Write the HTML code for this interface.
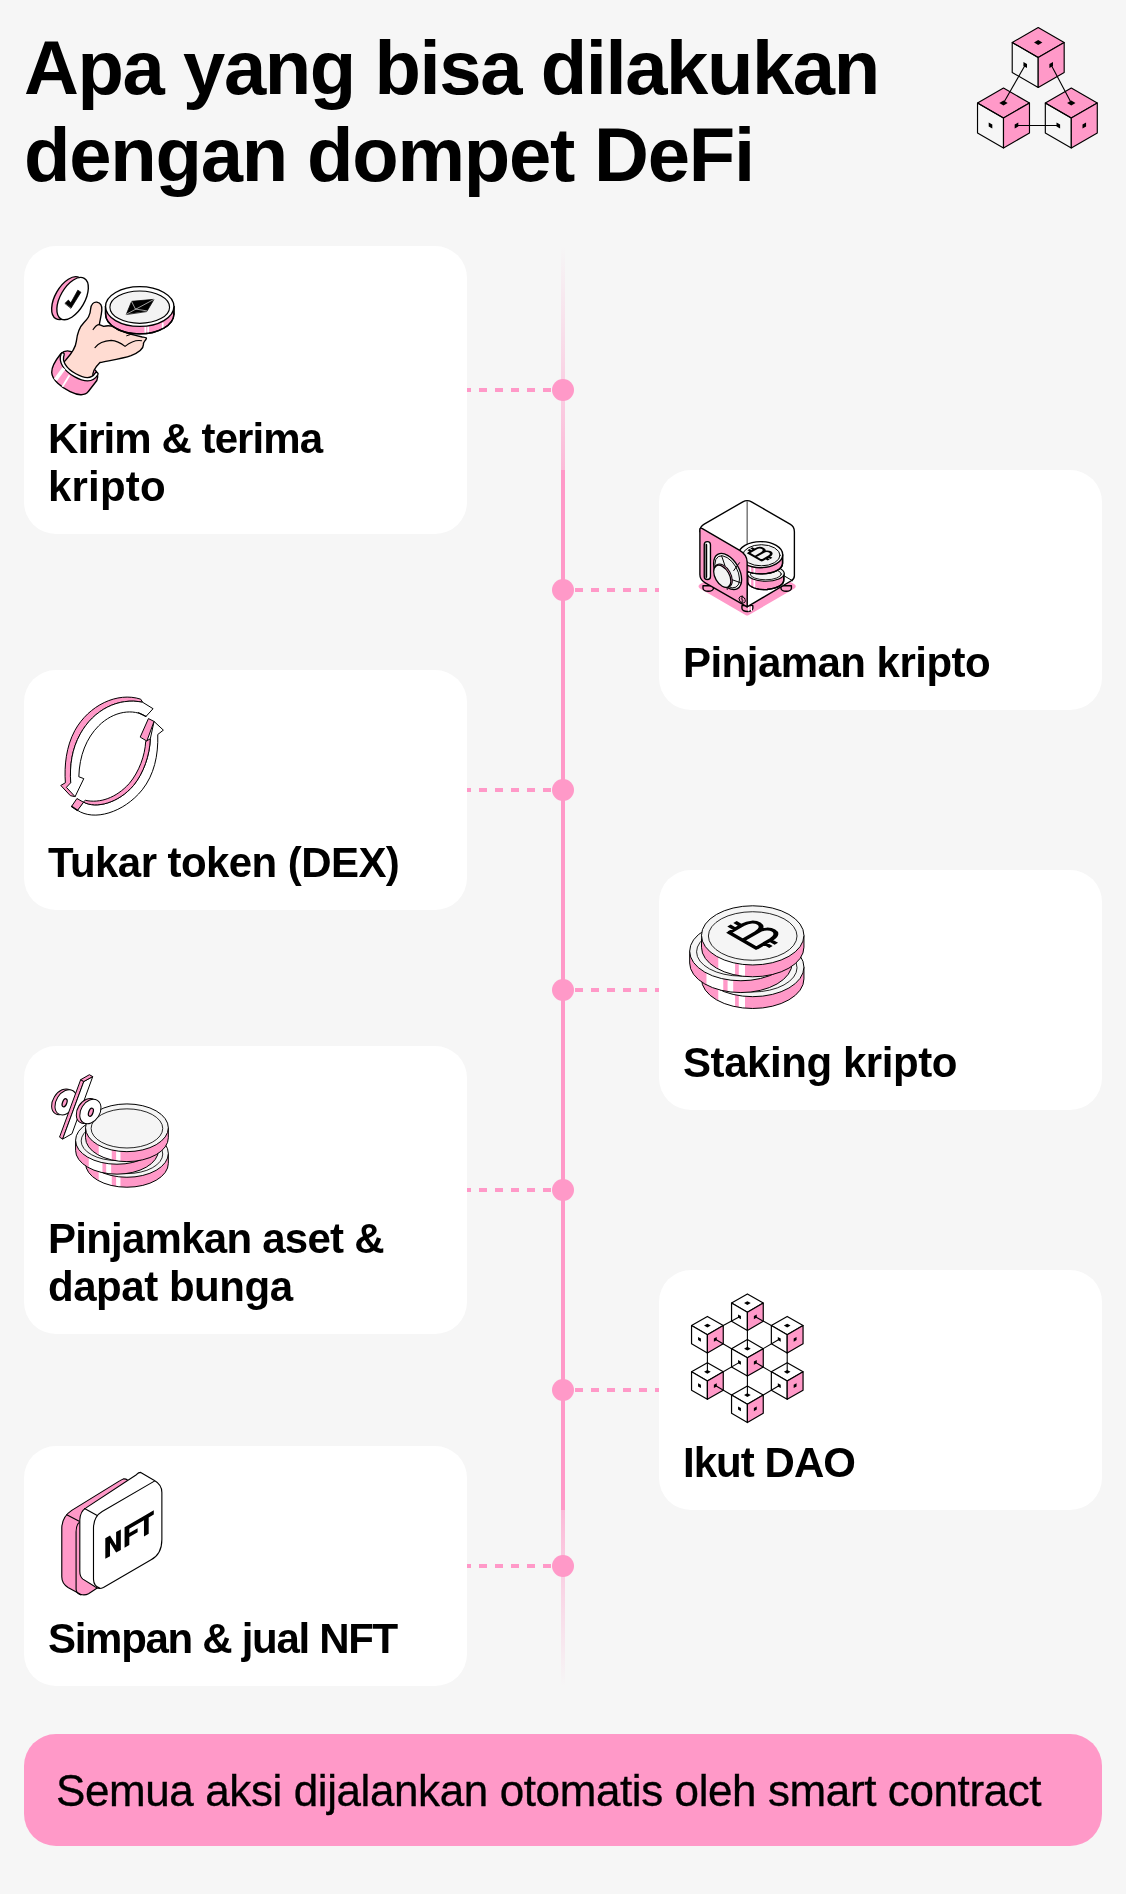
<!DOCTYPE html>
<html><head><meta charset="utf-8">
<style>
html,body{margin:0;padding:0;}
body{width:1126px;height:1894px;background:#f6f6f6;position:relative;overflow:hidden;font-family:"Liberation Sans",sans-serif;color:#000;}
.abs{position:absolute;}
.title{will-change:transform;position:absolute;left:24px;font-weight:bold;font-size:76px;letter-spacing:-1.3px;white-space:nowrap;line-height:87px;}
.card{position:absolute;background:#fff;border-radius:32px;width:443px;}
.L{left:24px;}
.R{left:659px;}
.ct{will-change:transform;position:absolute;left:24px;font-weight:bold;font-size:42px;letter-spacing:-0.6px;line-height:48px;white-space:nowrap;}
.line{position:absolute;left:561px;width:4px;}
.dot{position:absolute;left:552px;width:22px;height:22px;border-radius:50%;background:#ff99c8;}
.dl{position:absolute;left:467px;width:85px;height:4px;background:linear-gradient(to right,#ff99c8 0 8px,transparent 8px 16px);background-size:16px 4px;background-repeat:repeat-x;background-position:12px 0;}
.dr{position:absolute;left:574px;width:85px;height:4px;background:linear-gradient(to right,#ff99c8 0 8px,transparent 8px 16px);background-size:16px 4px;background-repeat:repeat-x;background-position:1px 0;}
.icon{position:absolute;overflow:visible;}
.banner{position:absolute;left:24px;top:1734px;width:1078px;height:112px;background:#ff99c8;border-radius:32px;}
.bt{will-change:transform;-webkit-text-stroke:0.35px #000;position:absolute;left:32px;font-size:44px;letter-spacing:0.5px;white-space:nowrap;line-height:48px;}
</style></head><body>

<div class="title" style="top:24px;letter-spacing:-1.4px">Apa yang bisa dilakukan</div>
<div class="title" style="top:111px;letter-spacing:-1.2px">dengan dompet DeFi</div>

<!-- header cubes icon -->
<svg class="icon" style="left:950px;top:0px" width="176" height="170" viewBox="950 0 176 170">
<polygon points="1038.20,57.50 1012.22,42.50 1038.20,27.50 1064.18,42.50" fill="#ff99c8" stroke="#000" stroke-width="1.15" stroke-linejoin="round"/>
<polygon points="1038.20,57.50 1012.22,42.50 1012.22,72.50 1038.20,87.50" fill="none" stroke="#000" stroke-width="1.15" stroke-linejoin="round"/>
<polygon points="1038.20,57.50 1064.18,42.50 1064.18,72.50 1038.20,87.50" fill="#ff99c8" stroke="#000" stroke-width="1.15" stroke-linejoin="round"/>
<polygon points="1034.04,42.50 1038.20,40.10 1042.36,42.50 1038.20,44.90" fill="#000"/>
<polygon points="1023.41,62.00 1027.01,64.00 1027.01,68.00 1023.41,66.00" fill="#000"/>
<polygon points="1049.39,64.00 1052.99,62.00 1052.99,66.00 1049.39,68.00" fill="#000"/>
<polygon points="1003.50,118.00 977.52,103.00 1003.50,88.00 1029.48,103.00" fill="#ff99c8" stroke="#000" stroke-width="1.15" stroke-linejoin="round"/>
<polygon points="1003.50,118.00 977.52,103.00 977.52,133.00 1003.50,148.00" fill="none" stroke="#000" stroke-width="1.15" stroke-linejoin="round"/>
<polygon points="1003.50,118.00 1029.48,103.00 1029.48,133.00 1003.50,148.00" fill="#ff99c8" stroke="#000" stroke-width="1.15" stroke-linejoin="round"/>
<polygon points="999.34,103.00 1003.50,100.60 1007.66,103.00 1003.50,105.40" fill="#000"/>
<polygon points="988.71,122.50 992.31,124.50 992.31,128.50 988.71,126.50" fill="#000"/>
<polygon points="1014.69,124.50 1018.29,122.50 1018.29,126.50 1014.69,128.50" fill="#000"/>
<polygon points="1071.30,118.00 1045.32,103.00 1071.30,88.00 1097.28,103.00" fill="#ff99c8" stroke="#000" stroke-width="1.15" stroke-linejoin="round"/>
<polygon points="1071.30,118.00 1045.32,103.00 1045.32,133.00 1071.30,148.00" fill="none" stroke="#000" stroke-width="1.15" stroke-linejoin="round"/>
<polygon points="1071.30,118.00 1097.28,103.00 1097.28,133.00 1071.30,148.00" fill="#ff99c8" stroke="#000" stroke-width="1.15" stroke-linejoin="round"/>
<polygon points="1067.14,103.00 1071.30,100.60 1075.46,103.00 1071.30,105.40" fill="#000"/>
<polygon points="1056.51,122.50 1060.11,124.50 1060.11,128.50 1056.51,126.50" fill="#000"/>
<polygon points="1082.49,124.50 1086.09,122.50 1086.09,126.50 1082.49,128.50" fill="#000"/>
<line x1="1025.21" y1="65.00" x2="1003.50" y2="103.00" stroke="#000" stroke-width="1.1"/>
<line x1="1051.19" y1="65.00" x2="1071.30" y2="103.00" stroke="#000" stroke-width="1.1"/>
<line x1="1016.49" y1="125.50" x2="1058.31" y2="125.50" stroke="#000" stroke-width="1.1"/>
</svg>


<!-- timeline -->
<div class="line" style="top:246px;height:224px;background:linear-gradient(to bottom,rgba(255,153,200,0),rgba(255,153,200,0.65))"></div>
<div class="line" style="top:470px;height:1040px;background:#ff99c8"></div>
<div class="line" style="top:1510px;height:176px;background:linear-gradient(to bottom,rgba(255,153,200,0.65),rgba(255,153,200,0))"></div>

<div class="dl" style="top:388px"></div><div class="dot" style="top:379px"></div>
<div class="dr" style="top:588px"></div><div class="dot" style="top:579px"></div>
<div class="dl" style="top:788px"></div><div class="dot" style="top:779px"></div>
<div class="dr" style="top:988px"></div><div class="dot" style="top:979px"></div>
<div class="dl" style="top:1188px"></div><div class="dot" style="top:1179px"></div>
<div class="dr" style="top:1388px"></div><div class="dot" style="top:1379px"></div>
<div class="dl" style="top:1564px"></div><div class="dot" style="top:1555px"></div>

<!-- cards -->
<div class="card L" style="top:246px;height:288px">
  <div class="ct" style="top:169px"><span style="letter-spacing:-0.93px">Kirim &amp; terima</span><br><span style="letter-spacing:0.2px">kripto</span></div>
</div>
<div class="card R" style="top:470px;height:240px">
  <div class="ct" style="top:169px;letter-spacing:-0.53px">Pinjaman kripto</div>
</div>
<div class="card L" style="top:670px;height:240px">
  <div class="ct" style="top:169px;letter-spacing:-0.57px">Tukar token (DEX)</div>
</div>
<div class="card R" style="top:870px;height:240px">
  <div class="ct" style="top:169px;letter-spacing:-0.43px">Staking kripto</div>
</div>
<div class="card L" style="top:1046px;height:288px">
  <div class="ct" style="top:169px"><span style="letter-spacing:-0.75px">Pinjamkan aset &amp;</span><br><span style="letter-spacing:-0.46px">dapat bunga</span></div>
</div>
<div class="card R" style="top:1270px;height:240px">
  <div class="ct" style="top:169px;letter-spacing:-0.96px">Ikut DAO</div>
</div>
<div class="card L" style="top:1446px;height:240px">
  <div class="ct" style="top:169px;letter-spacing:-1.3px">Simpan &amp; jual NFT</div>
</div>

<svg class="icon" style="left:44px;top:268px" width="140" height="140" viewBox="0 0 1126 1126">
<g stroke="#000" stroke-width="11" stroke-linejoin="round" stroke-linecap="round">
  <!-- check coin -->
  <ellipse cx="190" cy="242" rx="100" ry="190" transform="rotate(30 190 242)" fill="#ff99c8"/>
  <ellipse cx="230" cy="246" rx="98" ry="188" transform="rotate(30 230 246)" fill="#fff"/>
  <path d="M170 283 L196 258 L216 280 L272 178 L297 195 L218 322 Z" fill="#000" stroke-width="6"/>
  <!-- cuff -->
  <path d="M135 690 C95 740 60 790 62 840 C65 900 140 960 210 995 C270 1025 330 1030 355 995 L425 905 C440 870 430 830 400 810 L250 690 C210 660 165 660 135 690 Z" fill="#ff99c8"/>
  <!-- hand -->
  <path d="M175 740 C220 690 255 640 260 590 C268 520 280 480 320 440 C350 410 372 385 375 330 C378 290 400 272 425 275 C455 280 468 300 465 340 C462 380 450 420 445 455 L480 470 C530 455 560 470 600 500 C650 520 720 540 790 555 C820 560 830 560 820 575 C810 590 795 600 800 615 C800 650 760 680 700 705 C630 730 520 745 450 760 C420 790 385 840 395 875 C375 912 310 895 250 860 C165 810 140 770 175 740 Z" fill="#ffdcd2"/>
  <path d="M410 640 C440 600 480 585 540 582 C590 585 620 605 652 630 C690 600 730 575 785 585" fill="none" stroke-width="9"/>
  <path d="M395 495 C410 470 430 455 445 455" fill="none" stroke-width="9"/>
  <path d="M665 545 L695 535" fill="none" stroke-width="8"/>
  <!-- cuff rim -->
  <path d="M150 695 C128 750 165 815 250 862 C315 898 385 915 422 852" fill="none" stroke-width="36"/>
  <path d="M150 695 C128 750 165 815 250 862 C315 898 385 915 422 852" fill="none" stroke="#fff" stroke-width="15"/>
  <path d="M92 900 L160 808" fill="none" stroke="#fff" stroke-width="30" stroke-linecap="butt"/>
  <path d="M148 955 L205 862" fill="none" stroke="#fff" stroke-width="15" stroke-linecap="butt"/>
  <!-- eth coin -->
  <path d="M495 310 L495 370 C495 460 620 530 770 530 C920 530 1045 460 1045 370 L1045 310 Z" fill="#ff99c8"/>
  <path d="M815 470 L815 525 M838 468 L838 523 M955 440 L955 495" stroke="#fff" stroke-width="14" stroke-linecap="butt"/>
  <path d="M495 370 C495 460 620 530 770 530 C920 530 1045 460 1045 370" fill="none"/>
  <line x1="495" y1="310" x2="495" y2="370"/><line x1="1045" y1="310" x2="1045" y2="370"/>
  <ellipse cx="770" cy="310" rx="275" ry="160" fill="#fff"/>
  <ellipse cx="770" cy="315" rx="240" ry="130" fill="#f3f3f3" stroke-width="9"/>
  <path d="M662 372 L705 268 L885 252 L828 348 Z" fill="#000" stroke-width="6"/>
  <path d="M705 270 L735 330 L828 345 M662 372 L885 252" fill="none" stroke="#fff" stroke-width="5"/>
</g>
</svg>

<svg class="icon" style="left:680px;top:490px" width="140" height="140" viewBox="0 0 1126 1126">
<g stroke="#000" stroke-width="11" stroke-linejoin="round" stroke-linecap="round">
  <!-- pink base -->
  <polygon points="170,775 540,990 910,775 540,560" fill="#ff99c8" stroke="#ff99c8" stroke-width="40"/>
  <!-- feet -->
  <g fill="#ff99c8">
    <path d="M185 770 L185 790 A42 24 0 0 0 269 790 L269 770 Z"/>
    <path d="M498 930 L498 952 A44 25 0 0 0 586 952 L586 930 Z"/>
    <path d="M812 770 L812 790 A42 24 0 0 0 896 790 L896 770 Z"/>
  </g>
  <path d="M553 935 L553 975 M575 935 L575 975" stroke="#fff" stroke-width="9" stroke-linecap="butt"/>
  <!-- glass box -->
  <path d="M160 335 Q160 295 195 275 L505 95 Q540 75 575 95 L885 275 Q920 295 920 335 L920 690 Q920 715 895 730 L540 940 L540 540 Z" fill="#fff"/>
  <line x1="540" y1="95" x2="540" y2="440" stroke="#333" stroke-width="8"/>
  <path d="M840 692 L905 730" fill="none" stroke-width="8"/>
  <!-- coins -->
  <path d="M545 690 L545 745 C560 790 640 805 700 800 C790 790 835 760 835 720 L835 670 Z" fill="#ff99c8"/>
  <path d="M565 700 L565 790 M598 700 L598 795" stroke="#fff" stroke-width="14" stroke-linecap="butt"/>
  <path d="M545 745 C560 790 640 805 700 800 C790 790 835 760 835 720 L835 670" fill="none"/>
  <ellipse cx="690" cy="672" rx="148" ry="62" fill="#f3f3f3" stroke-width="9"/>
  <ellipse cx="690" cy="676" rx="125" ry="46" fill="none" stroke-width="7"/>
  <path d="M470 520 L470 590 C470 640 560 675 650 675 C750 675 825 640 825 590 L825 520 Z" fill="#ff99c8"/>
  <path d="M565 600 L565 670 M598 605 L598 675" stroke="#fff" stroke-width="14" stroke-linecap="butt"/>
  <path d="M470 590 C470 640 560 675 650 675 C750 675 825 640 825 590 L825 520" fill="none"/>
  <ellipse cx="648" cy="520" rx="178" ry="105" fill="#fff"/>
  <ellipse cx="655" cy="525" rx="150" ry="85" fill="#f3f3f3" stroke-width="8"/>
  <!-- bitcoin -->
  <g transform="matrix(1.1691 -0.6750 1.1691 0.6750 604 537)" fill="none" stroke-width="14" stroke-linecap="butt" stroke-linejoin="miter">
    <path d="M0 -45 L45 -45 C86 -45 86 0 45 0 L0 0 M0 0 L50 0 C90 0 90 45 50 45 L0 45 M0 -50 L0 50 M20 -45 L20 -66 M40 -45 L40 -66 M28 45 L28 66 M46 45 L46 66"/>
  </g>
  <!-- door -->
  <path d="M160 320 Q160 300 180 310 L480 485 Q540 520 540 580 L540 940 L200 745 Q160 722 160 680 Z" fill="#ff99c8"/>
  <!-- handle slot -->
  <rect x="195" y="415" width="50" height="305" rx="25" fill="#fff" stroke-width="11"/>
  <path d="M212 440 L212 700" stroke-width="14"/>
  <!-- dial -->
  <ellipse cx="383" cy="655" rx="92" ry="159" transform="rotate(-30 383 655)" fill="#f3f3f3" stroke-width="11"/>
  <ellipse cx="380" cy="658" rx="80" ry="142" transform="rotate(-30 380 658)" fill="none" stroke-width="7"/>
  <path d="M335 530 L362 610 M478 585 L432 648 M485 745 L420 722 M380 800 L372 745" fill="none" stroke-width="8"/>
  <ellipse cx="348" cy="688" rx="60" ry="102" transform="rotate(-30 348 688)" fill="#ff99c8" stroke-width="8"/>
  <ellipse cx="340" cy="694" rx="57" ry="97" transform="rotate(-30 340 694)" fill="#f3f3f3" stroke-width="10"/>
  <!-- $ badge -->
  <ellipse cx="500" cy="882" rx="22" ry="30" transform="rotate(-30 500 882)" fill="none" stroke-width="7"/>
  <path d="M508 862 C490 858 488 880 500 882 C512 884 510 906 492 902 M500 850 L500 915" fill="none" stroke-width="5"/>
</g>
</svg>

<svg class="icon" style="left:44px;top:686px" width="140" height="140" viewBox="0 0 1126 1126">
<g stroke="#000" stroke-width="8" stroke-linejoin="round" stroke-linecap="round">
  <!-- arrow 1 (upper-left, pointing down) -->
  <path d="M775 105 C590 45 360 155 248 358 C178 488 162 640 172 778 L135 800 L212 882 L250 890 L215 778 C205 640 225 505 292 385 C400 190 600 90 790 130 Z" fill="#ff99c8"/>
  <path d="M790 130 C600 90 400 190 292 385 C225 505 205 640 215 778 L180 815 L250 890 L320 745 L280 730 C285 560 340 420 440 320 C560 200 720 180 820 245 L875 185 Z" fill="#fff"/>
  <path d="M760 215 L820 245" fill="none" stroke-width="10"/>
  <!-- arrow 2 (lower-right, pointing up) -->
  <path d="M270 1000 C400 1090 640 1020 790 835 C885 715 920 560 915 390 L960 355 L885 285 L855 425 L855 425 C850 560 800 700 720 800 C600 940 420 990 320 935 Z" fill="#fff"/>
  <path d="M320 935 C420 990 600 940 720 800 C800 700 850 560 855 425 L818 445 C812 560 765 690 685 785 C580 900 450 945 335 920 Z" fill="#ff99c8"/>
  <path d="M222 968 L265 905 L318 935 L270 1000 Z" fill="#ff99c8"/>
  <path d="M775 408 L840 262 L885 285 L828 440 Z" fill="#ff99c8"/>
  <path d="M270 1000 L222 968" fill="none" stroke-width="10"/>
</g>
</svg>

<svg class="icon" style="left:676px;top:890px" width="140" height="140" viewBox="0 0 1126 1126">
<clipPath id="sc1"><path d="M205,620 L205,715 A412,238 0 0 0 1029,715 L1029,620 Z"/></clipPath>
<path d="M205,620 L205,715 A412,238 0 0 0 1029,715 L1029,620 Z" fill="#ff99c8" stroke="none"/>
<g clip-path="url(#sc1)">
<rect x="340" y="620" width="135" height="353" fill="#fff"/>
<rect x="505" y="620" width="50" height="353" fill="#fff"/>
</g>
<path d="M205,620 L205,715 A412,238 0 0 0 1029,715 L1029,620 Z" fill="none" stroke="#000" stroke-width="8" stroke-linejoin="round"/>
<ellipse cx="617" cy="620" rx="412" ry="238" fill="#f5f5f5" stroke="#000" stroke-width="8"/>
<ellipse cx="617" cy="625" rx="356.4" ry="195.2" fill="#f5f5f5" stroke="#000" stroke-width="6.8"/>
<clipPath id="sc2"><path d="M110,492 L110,587 A412,238 0 0 0 934,587 L934,492 Z"/></clipPath>
<path d="M110,492 L110,587 A412,238 0 0 0 934,587 L934,492 Z" fill="#ff99c8" stroke="none"/>
<g clip-path="url(#sc2)">
<rect x="245" y="492" width="135" height="353" fill="#fff"/>
<rect x="415" y="492" width="45" height="353" fill="#fff"/>
</g>
<path d="M110,492 L110,587 A412,238 0 0 0 934,587 L934,492 Z" fill="none" stroke="#000" stroke-width="8" stroke-linejoin="round"/>
<ellipse cx="522" cy="492" rx="412" ry="238" fill="#f5f5f5" stroke="#000" stroke-width="8"/>
<ellipse cx="522" cy="497" rx="356.4" ry="195.2" fill="#f5f5f5" stroke="#000" stroke-width="6.8"/>
<clipPath id="sc3"><path d="M205,365 L205,460 A412,238 0 0 0 1029,460 L1029,365 Z"/></clipPath>
<path d="M205,365 L205,460 A412,238 0 0 0 1029,460 L1029,365 Z" fill="#ff99c8" stroke="none"/>
<g clip-path="url(#sc3)">
<rect x="340" y="365" width="135" height="353" fill="#fff"/>
<rect x="505" y="365" width="50" height="353" fill="#fff"/>
</g>
<path d="M205,365 L205,460 A412,238 0 0 0 1029,460 L1029,365 Z" fill="none" stroke="#000" stroke-width="8" stroke-linejoin="round"/>
<ellipse cx="617" cy="365" rx="412" ry="238" fill="#f5f5f5" stroke="#000" stroke-width="8"/>
<ellipse cx="617" cy="370" rx="356.4" ry="195.2" fill="#f5f5f5" stroke="#000" stroke-width="6.8"/>
<g transform="matrix(2.4075 -1.3900 2.4075 1.3900 537.2 405.1)" fill="none" stroke="#000" stroke-width="11.5" stroke-linecap="butt" stroke-linejoin="miter"><path d="M0 -45 L45 -45 C86 -45 86 0 45 0 L0 0 M0 0 L50 0 C90 0 90 45 50 45 L0 45 M0 -50 L0 50 M20 -45 L20 -66 M40 -45 L40 -66 M28 45 L28 66 M46 45 L46 66"/></g>
</svg>

<svg class="icon" style="left:44px;top:1066px" width="140" height="140" viewBox="0 0 1126 1126">
<clipPath id="lc1"><path d="M334,703 L334,783 A333,192 0 0 0 1000,783 L1000,703 Z"/></clipPath>
<path d="M334,703 L334,783 A333,192 0 0 0 1000,783 L1000,703 Z" fill="#ff99c8" stroke="none"/>
<g clip-path="url(#lc1)">
<rect x="440" y="703" width="105" height="292" fill="#fff"/>
<rect x="580" y="703" width="35" height="292" fill="#fff"/>
</g>
<path d="M334,703 L334,783 A333,192 0 0 0 1000,783 L1000,703 Z" fill="none" stroke="#000" stroke-width="8" stroke-linejoin="round"/>
<ellipse cx="667" cy="703" rx="333" ry="192" fill="#f5f5f5" stroke="#000" stroke-width="8"/>
<ellipse cx="667" cy="708" rx="288.0" ry="157.4" fill="#f5f5f5" stroke="#000" stroke-width="6.8"/>
<clipPath id="lc2"><path d="M254,598 L254,678 A333,192 0 0 0 920,678 L920,598 Z"/></clipPath>
<path d="M254,598 L254,678 A333,192 0 0 0 920,678 L920,598 Z" fill="#ff99c8" stroke="none"/>
<g clip-path="url(#lc2)">
<rect x="360" y="598" width="110" height="292" fill="#fff"/>
<rect x="500" y="598" width="40" height="292" fill="#fff"/>
</g>
<path d="M254,598 L254,678 A333,192 0 0 0 920,678 L920,598 Z" fill="none" stroke="#000" stroke-width="8" stroke-linejoin="round"/>
<ellipse cx="587" cy="598" rx="333" ry="192" fill="#f5f5f5" stroke="#000" stroke-width="8"/>
<ellipse cx="587" cy="603" rx="288.0" ry="157.4" fill="#f5f5f5" stroke="#000" stroke-width="6.8"/>
<clipPath id="lc3"><path d="M334,497 L334,577 A333,192 0 0 0 1000,577 L1000,497 Z"/></clipPath>
<path d="M334,497 L334,577 A333,192 0 0 0 1000,577 L1000,497 Z" fill="#ff99c8" stroke="none"/>
<g clip-path="url(#lc3)">
<rect x="440" y="497" width="105" height="292" fill="#fff"/>
<rect x="580" y="497" width="35" height="292" fill="#fff"/>
</g>
<path d="M334,497 L334,577 A333,192 0 0 0 1000,577 L1000,497 Z" fill="none" stroke="#000" stroke-width="8" stroke-linejoin="round"/>
<ellipse cx="667" cy="497" rx="333" ry="192" fill="#f5f5f5" stroke="#000" stroke-width="8"/>
<ellipse cx="667" cy="502" rx="288.0" ry="157.4" fill="#f5f5f5" stroke="#000" stroke-width="6.8"/>
<g stroke="#000" stroke-width="8" stroke-linejoin="round">
<ellipse cx="150" cy="288" rx="78" ry="112" transform="rotate(32 150 288)" fill="#ff99c8"/>
<ellipse cx="175" cy="292" rx="76" ry="110" transform="rotate(32 175 292)" fill="#fff"/>
<ellipse cx="166" cy="296" rx="17" ry="34" transform="rotate(20 166 296)" fill="#ff99c8" stroke-width="10"/>
<polygon points="295,110 320,125 150,588 125,572" fill="#ff99c8"/>
<polygon points="320,125 392,85 225,545 150,588" fill="#fff"/>
<polygon points="295,110 365,70 392,85 320,125" fill="#ff99c8"/>
<ellipse cx="347" cy="362" rx="78" ry="108" transform="rotate(32 347 362)" fill="#ff99c8"/>
<ellipse cx="373" cy="366" rx="76" ry="106" transform="rotate(32 373 366)" fill="#fff"/>
<ellipse cx="377" cy="372" rx="17" ry="34" transform="rotate(20 377 372)" fill="#ff99c8" stroke-width="10"/>
</g>
</svg>

<svg class="icon" style="left:670px;top:1280px" width="140" height="150" viewBox="670 1280 140 150">
<polygon points="747.40,1312.20 731.55,1303.05 747.40,1293.90 763.25,1303.05" fill="#fff" stroke="#000" stroke-width="1.2" stroke-linejoin="round"/>
<polygon points="747.40,1312.20 731.55,1303.05 731.55,1321.35 747.40,1330.50" fill="#fff" stroke="#000" stroke-width="1.2" stroke-linejoin="round"/>
<polygon points="747.40,1312.20 763.25,1303.05 763.25,1321.35 747.40,1330.50" fill="#ff99c8" stroke="#000" stroke-width="1.2" stroke-linejoin="round"/>
<polygon points="744.07,1303.05 747.40,1301.13 750.73,1303.05 747.40,1304.97" fill="#000"/>
<polygon points="738.04,1314.38 740.92,1315.98 740.92,1319.18 738.04,1317.58" fill="#000"/>
<polygon points="753.88,1315.98 756.76,1314.38 756.76,1317.58 753.88,1319.18" fill="#000"/>
<polygon points="707.40,1334.70 691.55,1325.55 707.40,1316.40 723.25,1325.55" fill="#fff" stroke="#000" stroke-width="1.2" stroke-linejoin="round"/>
<polygon points="707.40,1334.70 691.55,1325.55 691.55,1343.85 707.40,1353.00" fill="#fff" stroke="#000" stroke-width="1.2" stroke-linejoin="round"/>
<polygon points="707.40,1334.70 723.25,1325.55 723.25,1343.85 707.40,1353.00" fill="#ff99c8" stroke="#000" stroke-width="1.2" stroke-linejoin="round"/>
<polygon points="704.07,1325.55 707.40,1323.63 710.73,1325.55 707.40,1327.47" fill="#000"/>
<polygon points="698.04,1336.88 700.92,1338.48 700.92,1341.68 698.04,1340.08" fill="#000"/>
<polygon points="713.88,1338.48 716.76,1336.88 716.76,1340.08 713.88,1341.68" fill="#000"/>
<polygon points="787.20,1334.70 771.35,1325.55 787.20,1316.40 803.05,1325.55" fill="#fff" stroke="#000" stroke-width="1.2" stroke-linejoin="round"/>
<polygon points="787.20,1334.70 771.35,1325.55 771.35,1343.85 787.20,1353.00" fill="#fff" stroke="#000" stroke-width="1.2" stroke-linejoin="round"/>
<polygon points="787.20,1334.70 803.05,1325.55 803.05,1343.85 787.20,1353.00" fill="#ff99c8" stroke="#000" stroke-width="1.2" stroke-linejoin="round"/>
<polygon points="783.87,1325.55 787.20,1323.63 790.53,1325.55 787.20,1327.47" fill="#000"/>
<polygon points="777.84,1336.88 780.72,1338.48 780.72,1341.68 777.84,1340.08" fill="#000"/>
<polygon points="793.68,1338.48 796.56,1336.88 796.56,1340.08 793.68,1341.68" fill="#000"/>
<polygon points="747.40,1357.80 731.55,1348.65 747.40,1339.50 763.25,1348.65" fill="#fff" stroke="#000" stroke-width="1.2" stroke-linejoin="round"/>
<polygon points="747.40,1357.80 731.55,1348.65 731.55,1366.95 747.40,1376.10" fill="#fff" stroke="#000" stroke-width="1.2" stroke-linejoin="round"/>
<polygon points="747.40,1357.80 763.25,1348.65 763.25,1366.95 747.40,1376.10" fill="#ff99c8" stroke="#000" stroke-width="1.2" stroke-linejoin="round"/>
<polygon points="744.07,1348.65 747.40,1346.73 750.73,1348.65 747.40,1350.57" fill="#000"/>
<polygon points="738.04,1359.97 740.92,1361.58 740.92,1364.78 738.04,1363.17" fill="#000"/>
<polygon points="753.88,1361.58 756.76,1359.97 756.76,1363.17 753.88,1364.78" fill="#000"/>
<polygon points="707.40,1381.00 691.55,1371.85 707.40,1362.70 723.25,1371.85" fill="#fff" stroke="#000" stroke-width="1.2" stroke-linejoin="round"/>
<polygon points="707.40,1381.00 691.55,1371.85 691.55,1390.15 707.40,1399.30" fill="#fff" stroke="#000" stroke-width="1.2" stroke-linejoin="round"/>
<polygon points="707.40,1381.00 723.25,1371.85 723.25,1390.15 707.40,1399.30" fill="#ff99c8" stroke="#000" stroke-width="1.2" stroke-linejoin="round"/>
<polygon points="704.07,1371.85 707.40,1369.93 710.73,1371.85 707.40,1373.77" fill="#000"/>
<polygon points="698.04,1383.17 700.92,1384.78 700.92,1387.98 698.04,1386.38" fill="#000"/>
<polygon points="713.88,1384.78 716.76,1383.17 716.76,1386.38 713.88,1387.98" fill="#000"/>
<polygon points="787.20,1381.00 771.35,1371.85 787.20,1362.70 803.05,1371.85" fill="#fff" stroke="#000" stroke-width="1.2" stroke-linejoin="round"/>
<polygon points="787.20,1381.00 771.35,1371.85 771.35,1390.15 787.20,1399.30" fill="#fff" stroke="#000" stroke-width="1.2" stroke-linejoin="round"/>
<polygon points="787.20,1381.00 803.05,1371.85 803.05,1390.15 787.20,1399.30" fill="#ff99c8" stroke="#000" stroke-width="1.2" stroke-linejoin="round"/>
<polygon points="783.87,1371.85 787.20,1369.93 790.53,1371.85 787.20,1373.77" fill="#000"/>
<polygon points="777.84,1383.17 780.72,1384.78 780.72,1387.98 777.84,1386.38" fill="#000"/>
<polygon points="793.68,1384.78 796.56,1383.17 796.56,1386.38 793.68,1387.98" fill="#000"/>
<polygon points="747.40,1404.20 731.55,1395.05 747.40,1385.90 763.25,1395.05" fill="#fff" stroke="#000" stroke-width="1.2" stroke-linejoin="round"/>
<polygon points="747.40,1404.20 731.55,1395.05 731.55,1413.35 747.40,1422.50" fill="#fff" stroke="#000" stroke-width="1.2" stroke-linejoin="round"/>
<polygon points="747.40,1404.20 763.25,1395.05 763.25,1413.35 747.40,1422.50" fill="#ff99c8" stroke="#000" stroke-width="1.2" stroke-linejoin="round"/>
<polygon points="744.07,1395.05 747.40,1393.13 750.73,1395.05 747.40,1396.97" fill="#000"/>
<polygon points="738.04,1406.38 740.92,1407.98 740.92,1411.18 738.04,1409.58" fill="#000"/>
<polygon points="753.88,1407.98 756.76,1406.38 756.76,1409.58 753.88,1411.18" fill="#000"/>
<line x1="739.48" y1="1316.78" x2="723.25" y2="1325.55" stroke="#000" stroke-width="1.1"/>
<line x1="755.32" y1="1316.78" x2="771.35" y2="1325.55" stroke="#000" stroke-width="1.1"/>
<line x1="747.40" y1="1330.50" x2="747.40" y2="1348.65" stroke="#000" stroke-width="1.1"/>
<line x1="715.32" y1="1339.28" x2="731.55" y2="1348.65" stroke="#000" stroke-width="1.1"/>
<line x1="779.28" y1="1339.28" x2="763.25" y2="1348.65" stroke="#000" stroke-width="1.1"/>
<line x1="707.40" y1="1353.00" x2="707.40" y2="1371.85" stroke="#000" stroke-width="1.1"/>
<line x1="787.20" y1="1353.00" x2="787.20" y2="1371.85" stroke="#000" stroke-width="1.1"/>
<line x1="739.48" y1="1362.38" x2="723.25" y2="1371.85" stroke="#000" stroke-width="1.1"/>
<line x1="755.32" y1="1362.38" x2="771.35" y2="1371.85" stroke="#000" stroke-width="1.1"/>
<line x1="747.40" y1="1376.10" x2="747.40" y2="1395.05" stroke="#000" stroke-width="1.1"/>
<line x1="715.32" y1="1385.58" x2="731.55" y2="1395.05" stroke="#000" stroke-width="1.1"/>
<line x1="779.28" y1="1385.58" x2="763.25" y2="1395.05" stroke="#000" stroke-width="1.1"/>
</svg>

<svg class="icon" style="left:45px;top:1460px" width="140" height="140" viewBox="0 0 1126 1126">
<g stroke="#000" stroke-width="9" stroke-linejoin="round" stroke-linecap="round">
  <!-- back pink tile -->
  <path d="M630 152 Q650 150 665 162 L420 1030 L350 1075 Q320 1092 285 1080 L185 1025 Q135 995 135 940 L135 545 Q138 455 215 405 L600 168 Q615 158 630 152 Z" fill="#ff99c8"/>
  <path d="M175 440 L275 492" fill="none"/>
  <path d="M278 500 Q250 520 250 580 L250 1040 Q252 1075 290 1085" fill="none"/>
  <!-- white tile -->
  <path d="M770 100 L880 165 Q940 198 940 262 L940 640 Q940 760 850 805 L470 1025 Q432 1045 400 1018 L305 958 Q280 940 280 895 L280 480 Q284 412 330 385 L735 118 Q752 100 770 100 Z" fill="#fff"/>
  <path d="M318 390 L420 447" fill="none"/>
  <path d="M880 170 L460 415 Q392 455 390 545 L390 960 Q392 1015 440 1030" fill="none"/>
  <!-- NFT text -->
  <path transform="matrix(1 -0.577 0 1 0 0)" d="M485 1075 L485 910 L523 910 L572 1017 L572 910 L610 910 L610 1075 L572 1075 L523 968 L523 1075 Z M640 1075 L640 910 L765 910 L765 944 L678 944 L678 978 L745 978 L745 1011 L678 1011 L678 1075 Z M755 910 L875 910 L875 944 L834.0 944 L834.0 1075 L796.0 1075 L796.0 944 L755 944 Z" fill="#000" stroke="none"/>
</g>
</svg>


<div class="banner">
  <div class="bt" style="top:33px;letter-spacing:-0.4px">Semua aksi dijalankan otomatis oleh smart contract</div>
</div>

</body></html>
